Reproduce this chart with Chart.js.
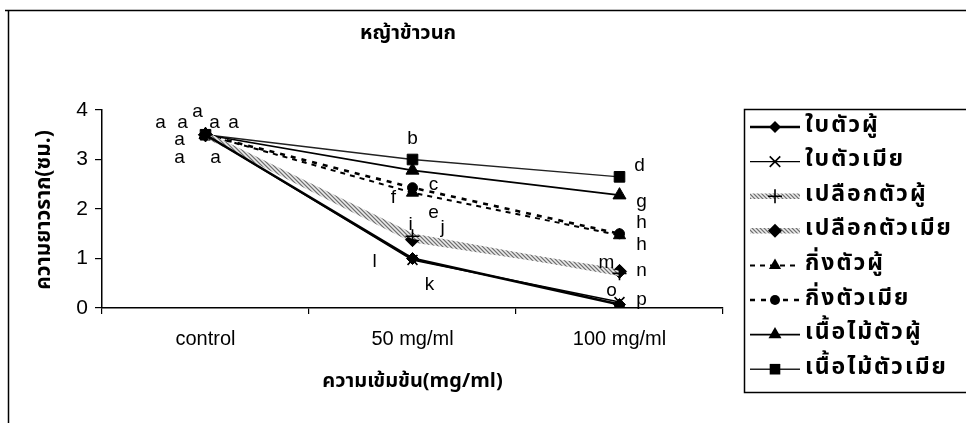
<!DOCTYPE html>
<html>
<head>
<meta charset="utf-8">
<script src="https://cdn.jsdelivr.net/npm/chart.js@4/dist/chart.umd.min.js"></script>
<style>
html,body{margin:0;padding:0;background:#fff;}
canvas{display:block;}
</style>
</head>
<body>
<canvas id="c" width="966" height="423"></canvas>
<script>
// ---------- DATA ----------
const categories = ['control', '50 mg/ml', '100 mg/ml'];
const seriesNames = ['ใบตัวผู้', 'ใบตัวเมีย', 'เปลือกตัวผู้', 'เปลือกตัวเมีย', 'กิ่งตัวผู้', 'กิ่งตัวเมีย', 'เนื้อไม้ตัวผู้', 'เนื้อไม้ตัวเมีย'];
const leafMale     = [3.5, 1.00, 0.07];
const leafFemale   = [3.5, 0.97, 0.12];
const barkMale     = [3.5, 1.45, 0.70];
const barkFemale   = [3.5, 1.38, 0.74];
const branchMale   = [3.5, 2.33, 1.47];
const branchFemale = [3.5, 2.43, 1.50];
const woodMale     = [3.5, 2.78, 2.28];
const woodFemale   = [3.5, 3.00, 2.65];
// significance letters
const leafMaleLetters     = ['a', 'l', 'o'];
const leafFemaleLetters   = ['a', 'k', 'p'];
const barkMaleLetters     = ['a', 'j', 'n'];
const barkFemaleLetters   = ['a', 'i', 'm'];
const branchMaleLetters   = ['a', 'f', 'h'];
const branchFemaleLetters = ['a', 'c', 'h'];
const woodMaleLetters     = ['a', 'e', 'g'];
const woodFemaleLetters   = ['a', 'b', 'd'];
const yTicks = [0, 1, 2, 3, 4];
const chartTitle = 'หญ้าข้าวนก';
const yTitle = 'ความยาวราก(ซม.)';
const xTitle = 'ความเข้มข้น(mg/ml)';

// ---------- STYLES / LAYOUT ----------
const THAI = '"Noto Sans Thai","Noto Sans","DejaVu Sans",sans-serif';
const LAT = '"Liberation Sans",Arial,sans-serif';

function grayPattern() {
  const p = document.createElement('canvas');
  p.width = 4; p.height = 4;
  const g = p.getContext('2d');
  g.fillStyle = '#bdbdbd'; g.fillRect(0, 0, 4, 4);
  g.fillStyle = '#707070';
  for (let i = 0; i < 4; i++) g.fillRect(i, i, 1, 1);
  g.fillStyle = '#ececec';
  for (let i = 0; i < 4; i++) g.fillRect((i + 2) % 4, i, 1, 1);
  return g.createPattern(p, 'repeat');
}
const ctx0 = document.getElementById('c').getContext('2d');
const gp = grayPattern();

const seriesData = [leafMale, leafFemale, barkMale, barkFemale, branchMale, branchFemale, woodMale, woodFemale];
const seriesLetters = [leafMaleLetters, leafFemaleLetters, barkMaleLetters, barkFemaleLetters, branchMaleLetters, branchFemaleLetters, woodMaleLetters, woodFemaleLetters];
const seriesStyles = [
  {color: '#000', width: 2.6, dash: [], point: 'rectRot', r: 6},
  {color: '#000', width: 1.4, dash: [], point: 'crossRot', r: 7},
  {color: gp, width: 5.5, dash: [], point: 'cross', r: 7},
  {color: gp, width: 5.5, dash: [], point: 'rectRot', r: 7},
  {color: '#000', width: 2, dash: [5, 5], point: 'triangle', r: 7},
  {color: '#000', width: 2.6, dash: [5, 6], point: 'circle', r: 5},
  {color: '#000', width: 1.6, dash: [], point: 'triangle', r: 7.5},
  {color: '#222', width: 1.4, dash: [], point: 'rect', r: 7.5}
];
// letter pixel offsets from data points [control, 50, 100]
const letterOffsets = [
  [[-45, -12], [-38, 3], [-8, -14]],
  [[-23, -12], [17, 25], [22, -2]],
  [[-26, 5], [30, -8], [22, -3]],
  [[-26, 23], [-2, -15], [-13, -9]],
  [[10, 23], [-19, 5], [22, 10]],
  [[-8, -23], [21, -3], [22, -11]],
  [[9, -12], [21, 42], [22, 7]],
  [[28, -12], [0, -21], [20, -11]]
];

const datasets = seriesNames.map((name, i) => {
  const s = seriesStyles[i];
  return {
    label: name,
    data: seriesData[i],
    borderColor: s.color,
    borderWidth: s.width,
    borderDash: s.dash,
    pointStyle: s.point,
    pointRadius: s.r,
    pointBorderColor: '#000',
    pointBackgroundColor: '#000',
    pointBorderWidth: s.point === 'cross' || s.point === 'crossRot' ? 1.6 : 1,
    tension: 0,
    fill: false
  };
});

function drawMarker(ctx, style, x, y, r) {
  ctx.save();
  ctx.fillStyle = '#000'; ctx.strokeStyle = '#000'; ctx.lineWidth = 1.6;
  ctx.setLineDash([]);
  ctx.beginPath();
  if (style === 'rectRot') {
    ctx.moveTo(x, y - r); ctx.lineTo(x + r, y); ctx.lineTo(x, y + r); ctx.lineTo(x - r, y); ctx.closePath(); ctx.fill();
  } else if (style === 'rect') {
    const s = r * Math.SQRT1_2; ctx.rect(x - s, y - s, 2 * s, 2 * s); ctx.fill();
  } else if (style === 'triangle') {
    ctx.moveTo(x, y - r); ctx.lineTo(x + r * 0.866, y + r * 0.5); ctx.lineTo(x - r * 0.866, y + r * 0.5); ctx.closePath(); ctx.fill();
  } else if (style === 'circle') {
    ctx.arc(x, y, r, 0, Math.PI * 2); ctx.fill();
  } else if (style === 'cross') {
    ctx.moveTo(x - r, y); ctx.lineTo(x + r, y); ctx.moveTo(x, y - r); ctx.lineTo(x, y + r); ctx.stroke();
  } else if (style === 'crossRot') {
    const d = r * 0.75;
    ctx.moveTo(x - d, y - d); ctx.lineTo(x + d, y + d); ctx.moveTo(x + d, y - d); ctx.lineTo(x - d, y + d); ctx.stroke();
  }
  ctx.restore();
}

const decor = {
  id: 'decor',
  beforeDraw(chart) {
    const c = chart.ctx;
    c.save();
    c.fillStyle = '#fff'; c.fillRect(0, 0, chart.width, chart.height);
    c.strokeStyle = '#000'; c.lineWidth = 1.5;
    c.beginPath(); c.moveTo(5, 10.5); c.lineTo(966, 10.5); c.moveTo(8.5, 10); c.lineTo(8.5, 423); c.stroke();
    c.restore();
  },
  afterDraw(chart) {
    const c = chart.ctx;
    const area = chart.chartArea;
    c.save();
    c.fillStyle = '#000';
    c.textAlign = 'center'; c.textBaseline = 'middle';
    // title
    c.font = 'bold 20px ' + THAI;
    c.fillText(chartTitle, 408, 35);
    // x title
    c.font = 'bold 20px ' + THAI;
    c.fillText(xTitle, (area.left + area.right) / 2, 383);
    // y title
    c.save();
    c.translate(46, 210);
    c.rotate(-Math.PI / 2);
    c.font = 'bold 21px ' + THAI;
    c.fillText(yTitle, 0, 0);
    c.restore();
    // letters
    c.font = '19px ' + LAT;
    seriesLetters.forEach((letters, i) => {
      const meta = chart.getDatasetMeta(i);
      letters.forEach((t, j) => {
        const pt = meta.data[j];
        const o = letterOffsets[i][j];
        c.fillText(t, pt.x + o[0], pt.y + o[1]);
      });
    });
    // legend
    const lx = 744.5, ly = 109.5, lh = 283;
    c.strokeStyle = '#000'; c.lineWidth = 1.5;
    c.strokeRect(lx, ly, 240, lh);
    const rowH = 34.6, first = 127;
    c.textAlign = 'left';
    c.font = 'bold 23px ' + THAI;
    if ('letterSpacing' in c) c.letterSpacing = '2px';
    seriesNames.forEach((name, i) => {
      const s = seriesStyles[i];
      const y = first + i * rowH;
      c.save();
      c.strokeStyle = s.color;
      c.lineWidth = s.width;
      c.setLineDash(s.dash);
      c.beginPath(); c.moveTo(750, y); c.lineTo(800, y); c.stroke();
      c.restore();
      drawMarker(c, s.point, 775, y, s.r);
      c.fillStyle = '#000';
      c.fillText(name, 805, y);
    });
    if ('letterSpacing' in c) c.letterSpacing = '0px';
    c.restore();
  }
};

new Chart(ctx0, {
  type: 'line',
  data: {labels: categories, datasets: datasets},
  options: {
    responsive: false,
    animation: false,
    events: [],
    layout: {padding: {left: 0, right: 243, top: 110, bottom: 0}},
    plugins: {legend: {display: false}, title: {display: false}, tooltip: {enabled: false}},
    scales: {
      x: {
        type: 'category',
        offset: true,
        grid: {display: true, drawOnChartArea: false, drawTicks: true, tickLength: 6, offset: true, color: '#000', lineWidth: 1.2},
        border: {display: true, color: '#000', width: 1.5},
        ticks: {color: '#000', font: {family: LAT, size: 20}, padding: 13, maxRotation: 0},
        afterFit: s => { s.height = 115; }
      },
      y: {
        min: 0, max: 4,
        afterBuildTicks: s => { s.ticks = yTicks.map(v => ({value: v})); },
        ticks: {color: '#000', font: {family: LAT, size: 21}, padding: 7},
        grid: {display: true, drawOnChartArea: false, drawTicks: true, tickLength: 7, color: '#000', lineWidth: 1.2},
        border: {display: true, color: '#000', width: 1.5},
        afterFit: s => { s.width = 102; }
      }
    }
  },
  plugins: [decor]
});
</script>
</body>
</html>
